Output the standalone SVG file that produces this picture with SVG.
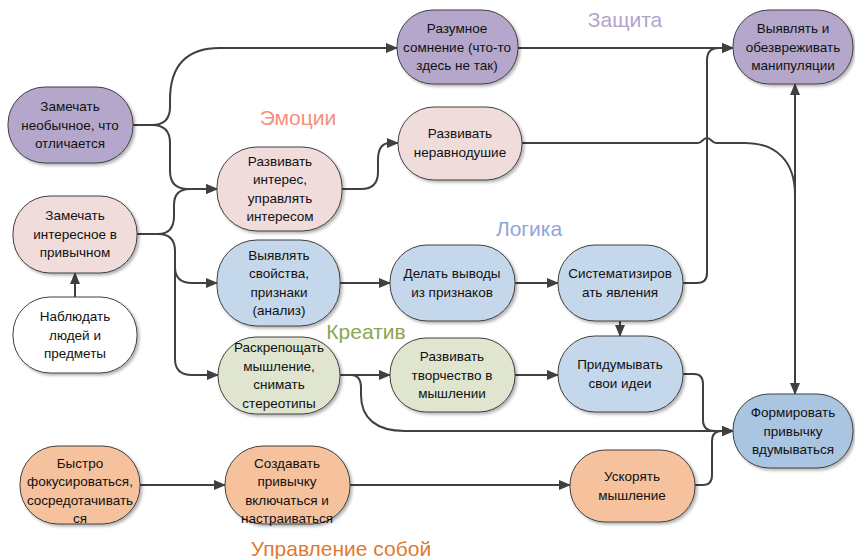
<svg xmlns="http://www.w3.org/2000/svg" width="855" height="559" viewBox="0 0 855 559">
<defs>
<style>
.n{stroke:#404040;stroke-width:1}
.t{font-family:"Liberation Sans",Arial,sans-serif;font-size:13.5px;fill:#111;text-anchor:middle}
.g{font-family:"Liberation Sans",Arial,sans-serif;font-size:21px;text-anchor:middle}
.c{fill:none;stroke:#404040;stroke-width:2}
.pu{fill:#B4A7CB}.pk{fill:#F0DCDB}.bl{fill:#C5D7EA}.gr{fill:#DFE5CE}.bd{fill:#A9C5E2}.or{fill:#F5C29D}.wh{fill:#FFFFFF}
</style>
<marker id="a" markerUnits="userSpaceOnUse" markerWidth="12" markerHeight="10" refX="11" refY="5" orient="auto-start-reverse">
<path d="M0,0 L12,5 L0,10 z" fill="#404040"/>
</marker>
<filter id="s" x="-10%" y="-10%" width="130%" height="130%">
<feDropShadow dx="2" dy="2" stdDeviation="1.5" flood-color="#000" flood-opacity="0.3"/>
</filter>
</defs>
<rect width="855" height="559" fill="#fff"/>
<g id="labels">
<text class="g" x="625" y="27" fill="#B3A3CD">Защита</text>
<text class="g" x="298" y="125" fill="#F4907C">Эмоции</text>
<text class="g" x="529" y="236" fill="#8EA7D9">Логика</text>
<text class="g" x="366" y="339" fill="#8BA650">Креатив</text>
<text class="g" x="341" y="556" fill="#E07A30">Управление собой</text>
</g>
<g id="connectors">
<path class="c" d="M133,125 H152 Q170,125 170,107 V100 C170,66 186,48 220,48 H397" marker-end="url(#a)"/>
<path class="c" d="M152,125 Q170,125 170,143 V171 Q170,189 188,189 H217" marker-end="url(#a)"/>
<path class="c" d="M137,234 H158 Q174,234 174,216 V205 Q174,189 190,189 H217" marker-end="url(#a)"/>
<path class="c" d="M158,234 Q175,234 175,251 V267 Q175,283 192,283 H217" marker-end="url(#a)"/>
<path class="c" d="M175,267 V359 Q175,375 192,375 H218" marker-end="url(#a)"/>
<path class="c" d="M75,297 V273" marker-end="url(#a)"/>
<path class="c" d="M342,189 H361 Q378,189 378,172 V160 Q378,143 390,143 H398" marker-end="url(#a)"/>
<path class="c" d="M518,48 H733" marker-end="url(#a)"/>
<path class="c" d="M683,283 H697 Q707,283 707,273 V60 Q707,48 719,48 H733" marker-end="url(#a)"/>
<path class="c" d="M522,143 H698 C702,143 703,138 707,138 C711,138 712,143 716,143 H745 C775,143 795,160 795,195"/>
<path class="c" d="M795,84 V394" marker-start="url(#a)" marker-end="url(#a)"/>
<path class="c" d="M340,283 H390" marker-end="url(#a)"/>
<path class="c" d="M515,283 H558" marker-end="url(#a)"/>
<path class="c" d="M620,321 V336" marker-end="url(#a)"/>
<path class="c" d="M340,375 H390" marker-end="url(#a)"/>
<path class="c" d="M515,375 H558" marker-end="url(#a)"/>
<path class="c" d="M340,375 H351 Q361,375 361,388 V395 C361,418 376,431 405,431 H733" marker-end="url(#a)"/>
<path class="c" d="M683,374 H694 Q703,374 703,384 V420 Q703,431 715,431 H733" marker-end="url(#a)"/>
<path class="c" d="M695,485 H703 Q712,485 712,475 V441 Q712,431 722,431 H733" marker-end="url(#a)"/>
<path class="c" d="M140,485 H225" marker-end="url(#a)"/>
<path class="c" d="M350,485 H570" marker-end="url(#a)"/>
</g>
<g id="n1"><rect class="n pu" filter="url(#s)" x="8" y="87" width="125" height="76" rx="37"/>
<text class="t"><tspan x="70" y="111">Замечать</tspan><tspan x="70" y="129.5">необычное, что</tspan><tspan x="70" y="148">отличается</tspan></text></g>
<g id="n2"><rect class="n pk" filter="url(#s)" x="13" y="196" width="124" height="77" rx="37"/>
<text class="t"><tspan x="75" y="220">Замечать</tspan><tspan x="75" y="238.5">интересное в</tspan><tspan x="75" y="257">привычном</tspan></text></g>
<g id="n3"><rect class="n wh" filter="url(#s)" x="13" y="297" width="124" height="76" rx="37"/>
<text class="t"><tspan x="75" y="321">Наблюдать</tspan><tspan x="75" y="339.5">людей и</tspan><tspan x="75" y="358">предметы</tspan></text></g>
<g id="n4"><rect class="n pu" filter="url(#s)" x="397" y="10" width="121" height="74" rx="36"/>
<text class="t"><tspan x="457" y="33">Разумное</tspan><tspan x="457" y="51.5">сомнение (что-то</tspan><tspan x="457" y="70">здесь не так)</tspan></text></g>
<g id="n5"><rect class="n pu" filter="url(#s)" x="733" y="10" width="120" height="74" rx="36"/>
<text class="t"><tspan x="793" y="33">Выявлять и</tspan><tspan x="793" y="51.5">обезвреживать</tspan><tspan x="793" y="70">манипуляции</tspan></text></g>
<g id="n6"><rect class="n pk" filter="url(#s)" x="398" y="107" width="124" height="73" rx="36"/>
<text class="t"><tspan x="460" y="138">Развивать</tspan><tspan x="460" y="156.5">неравнодушие</tspan></text></g>
<g id="n7"><rect class="n pk" filter="url(#s)" x="217" y="147" width="125" height="84" rx="40"/>
<text class="t"><tspan x="280" y="165.5">Развивать</tspan><tspan x="280" y="184">интерес,</tspan><tspan x="280" y="202.5">управлять</tspan><tspan x="280" y="221">интересом</tspan></text></g>
<g id="n8"><rect class="n bl" filter="url(#s)" x="217" y="240" width="123" height="86" rx="40"/>
<text class="t"><tspan x="279" y="259.5">Выявлять</tspan><tspan x="279" y="278">свойства,</tspan><tspan x="279" y="296.5">признаки</tspan><tspan x="279" y="315">(анализ)</tspan></text></g>
<g id="n9"><rect class="n bl" filter="url(#s)" x="390" y="245" width="125" height="76" rx="37"/>
<text class="t"><tspan x="452" y="278">Делать выводы</tspan><tspan x="452" y="296.5">из признаков</tspan></text></g>
<g id="n10"><rect class="n bl" filter="url(#s)" x="558" y="245" width="125" height="76" rx="37"/>
<text class="t"><tspan x="620" y="278">Систематизиров</tspan><tspan x="620" y="296.5">ать явления</tspan></text></g>
<g id="n11"><rect class="n gr" filter="url(#s)" x="218" y="337" width="122" height="77" rx="38"/>
<text class="t"><tspan x="279" y="352">Раскрепощать</tspan><tspan x="279" y="370.5">мышление,</tspan><tspan x="279" y="389">снимать</tspan><tspan x="279" y="407.5">стереотипы</tspan></text></g>
<g id="n12"><rect class="n gr" filter="url(#s)" x="390" y="338" width="125" height="74" rx="36"/>
<text class="t"><tspan x="452" y="361">Развивать</tspan><tspan x="452" y="379.5">творчество в</tspan><tspan x="452" y="398">мышлении</tspan></text></g>
<g id="n13"><rect class="n bl" filter="url(#s)" x="558" y="336" width="125" height="76" rx="37"/>
<text class="t"><tspan x="620" y="369">Придумывать</tspan><tspan x="620" y="387.5">свои идеи</tspan></text></g>
<g id="n14"><rect class="n bd" filter="url(#s)" x="733" y="394" width="120" height="74" rx="36"/>
<text class="t"><tspan x="793" y="417">Формировать</tspan><tspan x="793" y="435.5">привычку</tspan><tspan x="793" y="454">вдумываться</tspan></text></g>
<g id="n15"><rect class="n or" filter="url(#s)" x="20" y="446" width="120" height="78" rx="38"/>
<text class="t"><tspan x="80" y="467.5">Быстро</tspan><tspan x="80" y="486">фокусироваться,</tspan><tspan x="80" y="504.5">сосредотачивать</tspan><tspan x="80" y="523">ся</tspan></text></g>
<g id="n16"><rect class="n or" filter="url(#s)" x="225" y="446" width="125" height="78" rx="38"/>
<text class="t"><tspan x="287" y="467.5">Создавать</tspan><tspan x="287" y="486">привычку</tspan><tspan x="287" y="504.5">включаться и</tspan><tspan x="287" y="523">настраиваться</tspan></text></g>
<g id="n17"><rect class="n or" filter="url(#s)" x="570" y="450" width="125" height="72" rx="35"/>
<text class="t"><tspan x="632" y="481">Ускорять</tspan><tspan x="632" y="499.5">мышление</tspan></text></g>
</svg>
